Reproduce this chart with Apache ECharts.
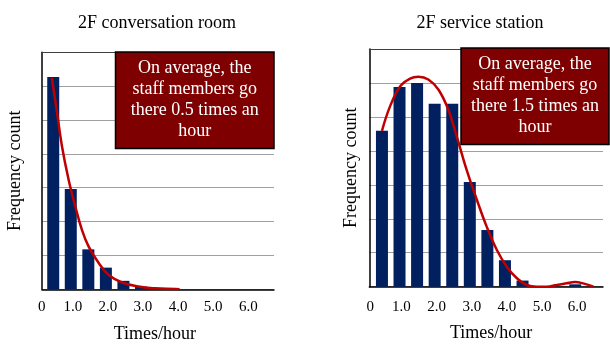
<!DOCTYPE html>
<html>
<head>
<meta charset="utf-8">
<script src="https://cdn.jsdelivr.net/npm/echarts@6/dist/echarts.min.js"></script>
<style>
  html, body { margin: 0; padding: 0; background: #fff; }
  #chart { width: 610px; height: 345px; }
</style>
</head>
<body>
<div id="chart"></div>
<script>
// Visit-frequency histograms (times per hour) with fitted curves
const convBins = [0.5, 1.0, 1.5, 2.0, 2.5, 3.0, 3.5];
const convCounts = [6.27, 2.96, 1.18, 0.64, 0.25, 0.08, 0.03];
const convCurveX = [0.46, 0.61, 0.75, 0.94, 1.13, 1.32, 1.51, 1.80, 2.08, 2.46, 2.93, 3.41, 3.98, 4.10];
const convCurveY = [6.24, 5.21, 4.22, 3.23, 2.44, 1.75, 1.26, 0.77, 0.42, 0.20, 0.08, 0.03, 0.01, 0.0];

const stationBins = [0.5, 1.0, 1.5, 2.0, 2.5, 3.0, 3.5, 4.0, 4.5, 5.0, 5.5, 6.0];
const stationCounts = [4.59, 5.88, 6.00, 5.39, 5.39, 3.08, 1.67, 0.78, 0.18, 0, 0, 0.07];
const stationCurveX = [0.50, 0.73, 1.02, 1.30, 1.54, 1.82, 2.11, 2.39, 2.63, 2.91, 3.20, 3.48, 3.77, 4.05, 4.34, 4.62, 4.91, 5.19, 5.47, 5.75, 5.99, 6.25, 6.52];
const stationCurveY = [4.59, 5.31, 5.90, 6.13, 6.18, 6.10, 5.80, 5.21, 4.42, 3.44, 2.56, 1.77, 1.08, 0.59, 0.25, 0.05, 0.0, 0.0, 0.05, 0.10, 0.14, 0.09, 0.0];

const tickLabels = ['0', '1.0', '2.0', '3.0', '4.0', '5.0', '6.0'];
const panelTitles = ['2F conversation room', '2F service station'];
const convNote = 'On average, the\nstaff members go\nthere 0.5 times an\nhour';
const stationNote = 'On average, the\nstaff members go\nthere 1.5 times an\nhour';
const xName = 'Times/hour';
const yName = 'Frequency count';

const FONT = '"Liberation Serif", "Times New Roman", serif';
const BAR = '#002060';
const FIT = '#c00000';
const NOTE_BG = '#7f0000';

const pairs = (xs, ys) => xs.map((x, i) => [x, ys[i]]);

function plotAxesX(gridIndex, min, max) {
  return [
    { gridIndex, type: 'value', min, max, position: 'bottom',
      axisLine: { show: true, lineStyle: { color: '#000', width: 1.5 } },
      axisTick: { show: false }, axisLabel: { show: false }, splitLine: { show: false } },
    { gridIndex, type: 'value', min, max, position: 'top',
      axisLine: { show: true, lineStyle: { color: '#404040', width: 1 } },
      axisTick: { show: false }, axisLabel: { show: false }, splitLine: { show: false } }
  ];
}

function labelAxisX(gridIndex, margin, nameGap, namePad) {
  return {
    gridIndex, type: 'value', min: 0, max: 6.79, interval: 1, position: 'bottom',
    axisLine: { show: false }, axisTick: { show: false }, splitLine: { show: false },
    axisLabel: {
      margin, fontFamily: FONT, fontSize: 15, color: '#000',
      padding: [0, 0, 0, 4],
      formatter: v => Number.isInteger(v) ? (v === 0 ? '{z|0}' : tickLabels[v]) : '',
      rich: { z: { fontFamily: FONT, fontSize: 15, color: '#000', padding: [0, 0, 0, 8] } }
    },
    name: xName, nameLocation: 'middle', nameGap,
    nameTextStyle: { fontFamily: FONT, fontSize: 18, color: '#000', padding: [0, 0, 0, namePad] }
  };
}

function plotAxisY(gridIndex, nameGap) {
  return {
    gridIndex, type: 'value', min: 0, max: 7, interval: 1,
    axisLine: { show: true, lineStyle: { color: '#000', width: 1.5 } },
    axisTick: { show: false }, axisLabel: { show: false },
    splitLine: { show: true, lineStyle: { color: '#a0a0a0', width: 1 } },
    name: yName, nameLocation: 'middle', nameGap, nameRotate: 90,
    nameTextStyle: { fontFamily: FONT, fontSize: 18, color: '#000' }
  };
}

const hiddenY = gridIndex => ({ gridIndex, type: 'value', min: 0, max: 7, show: false });

function noteBox(x, y, w, h, text) {
  return {
    type: 'group',
    children: [
      { type: 'rect', z: 100, shape: { x, y, width: w, height: h },
        style: { fill: NOTE_BG, stroke: '#000', lineWidth: 1.5 } },
      { type: 'text', z: 101, x: x + w / 2, y: y + h / 2,
        style: { text, fill: '#fff', font: '18px ' + FONT, fontFamily: FONT, fontSize: 18,
                 align: 'center', verticalAlign: 'middle', textAlign: 'center',
                 textVerticalAlign: 'middle', lineHeight: 21 } }
    ]
  };
}

// fixed-position panels: keep each grid exactly where it is placed
const panelGrid = (left, top, width, height) =>
  ({ left, top, width, height, containLabel: false, outerBoundsMode: 'none' });

const chart = echarts.init(document.getElementById('chart'), null, { renderer: 'canvas' });

chart.setOption({
  backgroundColor: '#fff',
  animation: false,
  title: [
    { text: panelTitles[0], left: 152, top: 9, textAlign: 'center',
      textStyle: { fontFamily: FONT, fontSize: 18, fontWeight: 'normal', color: '#000' } },
    { text: panelTitles[1], left: 475, top: 9, textAlign: 'center',
      textStyle: { fontFamily: FONT, fontSize: 18, fontWeight: 'normal', color: '#000' } }
  ],
  grid: [
    panelGrid(42, 52.3, 232, 237),
    panelGrid(35.7, 52.3, 238.3, 237),
    panelGrid(369.3, 49, 233.7, 237.7),
    panelGrid(364.3, 49, 238.7, 237.7)
  ],
  xAxis: [
    ...plotAxesX(0, 0.18, 6.79),
    labelAxisX(1, 10, 36, 0),
    ...plotAxesX(2, 0.14, 6.79),
    labelAxisX(3, 13, 38, 15)
  ],
  yAxis: [
    plotAxisY(0, 18),
    hiddenY(1),
    plotAxisY(2, 9),
    hiddenY(3)
  ],
  series: [
    { type: 'bar', xAxisIndex: 0, yAxisIndex: 0, barWidth: 12,
      data: pairs(convBins, convCounts), itemStyle: { color: BAR } },
    { type: 'line', xAxisIndex: 0, yAxisIndex: 0, smooth: 0.4, showSymbol: false, z: 5,
      data: pairs(convCurveX, convCurveY), lineStyle: { color: FIT, width: 2.5 } },
    { type: 'bar', xAxisIndex: 3, yAxisIndex: 2, barWidth: 12,
      data: pairs(stationBins, stationCounts), itemStyle: { color: BAR } },
    { type: 'line', xAxisIndex: 3, yAxisIndex: 2, smooth: 0.4, showSymbol: false, z: 5,
      data: pairs(stationCurveX, stationCurveY), lineStyle: { color: FIT, width: 2.5 } }
  ],
  graphic: [
    noteBox(115.5, 52, 158.5, 96.5, convNote),
    noteBox(461, 48, 148, 96.5, stationNote)
  ]
});
</script>
</body>
</html>
